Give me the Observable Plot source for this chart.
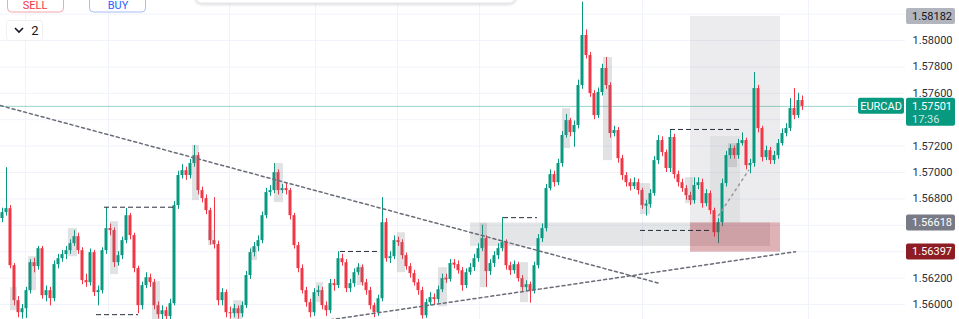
<!DOCTYPE html>
<html><head><meta charset="utf-8">
<script src="https://cdn.jsdelivr.net/npm/d3@7"></script>
<script src="https://cdn.jsdelivr.net/npm/@observablehq/plot@0.6"></script>
<style>
html,body{margin:0;padding:0;background:#fff;overflow:hidden;}
#wrap{position:relative;width:959px;height:319px;font-family:Roboto,"Noto Sans",sans-serif;}
#wrap svg{display:block;}
#ui{position:absolute;left:0;top:0;pointer-events:none;}
</style></head><body><div id="wrap"></div>
<script>
// ---- data (EURCAD candles) ----
const symbol = "EURCAD";
const countdown = "17:36";
const firstOpen = 1.56651;
const closes = [
1.56696,1.56726,1.56294,1.56029,1.55938,1.55968,1.56105,1.56317,1.56287,1.56423,
1.56067,1.56105,1.56044,1.56302,1.56347,1.56378,1.56408,1.56461,1.56514,1.56408,
1.56181,1.56165,1.56393,1.56090,1.56105,1.56408,1.56575,1.56560,1.56317,1.56370,
1.56484,1.56673,1.56522,1.56272,1.55991,1.56143,1.56203,1.56165,1.55991,1.55923,
1.55953,1.55908,1.56006,1.56749,1.56977,1.57014,1.56977,1.57068,1.57128,1.56863,
1.56802,1.56711,1.56484,1.56454,1.56029,1.56090,1.55938,1.55930,1.55968,1.55930,
1.55991,1.56219,1.56393,1.56438,1.56484,1.56673,1.56848,1.56863,1.56999,1.56863,
1.56878,1.56863,1.56673,1.56446,1.56272,1.56105,1.56014,1.55938,1.56090,1.56105,
1.55991,1.55953,1.56158,1.56143,1.56347,1.56317,1.56120,1.56158,1.56241,1.56279,
1.56165,1.56105,1.55991,1.55938,1.56044,1.56620,1.56347,1.56362,1.56484,1.56469,
1.56370,1.56287,1.56234,1.56165,1.56105,1.55915,1.56014,1.56052,1.56037,1.56112,
1.56196,1.56190,1.56310,1.56302,1.56256,1.56143,1.56241,1.56279,1.56347,1.56423,
1.56499,1.56249,1.56310,1.56370,1.56423,1.56469,1.56294,1.56256,1.56302,1.56196,
1.56128,1.56150,1.56105,1.56294,1.56499,1.56575,1.56878,1.56984,1.56923,1.57068,
1.57280,1.57393,1.57302,1.57356,1.57659,1.58038,1.57886,1.57598,1.57431,1.57606,
1.57788,1.57659,1.57295,1.57318,1.57105,1.56977,1.56923,1.56893,1.56923,1.56863,
1.56749,1.56757,1.56840,1.57090,1.57242,1.57151,1.57030,1.57265,1.56984,1.56923,
1.56878,1.56825,1.56787,1.56901,1.56923,1.56764,1.56840,1.56711,1.56544,1.56620,
1.56916,1.57128,1.57181,1.57128,1.57219,1.57242,1.57052,1.57068,1.57636,1.57333,
1.57113,1.57166,1.57090,1.57128,1.57219,1.57295,1.57333,1.57484,1.57431,1.57545,
1.57501];
const highs = [
1.56730,1.57037,1.56750,1.56310,1.56060,1.56000,1.56130,1.56340,1.56350,1.56440,
1.56440,1.56140,1.56130,1.56330,1.56380,1.56410,1.56440,1.56490,1.56560,1.56540,
1.56430,1.56230,1.56420,1.56410,1.56140,1.56430,1.56734,1.56610,1.56580,1.56400,
1.56510,1.56727,1.56690,1.56540,1.56290,1.56170,1.56240,1.56230,1.56190,1.56020,
1.55990,1.55980,1.56040,1.56780,1.57010,1.57060,1.57040,1.57100,1.57204,1.57150,
1.56890,1.56830,1.56730,1.56810,1.56480,1.56120,1.56110,1.55980,1.56000,1.55990,
1.56020,1.56250,1.56420,1.56470,1.56520,1.56700,1.56880,1.56900,1.57068,1.57020,
1.56910,1.56920,1.56880,1.56690,1.56470,1.56300,1.56130,1.56040,1.56120,1.56140,
1.56130,1.56020,1.56190,1.56190,1.56400,1.56380,1.56340,1.56190,1.56270,1.56310,
1.56300,1.56190,1.56130,1.56010,1.56070,1.56810,1.56650,1.56400,1.56520,1.56510,
1.56490,1.56390,1.56310,1.56260,1.56190,1.56130,1.56040,1.56090,1.56080,1.56140,
1.56230,1.56230,1.56340,1.56340,1.56330,1.56280,1.56270,1.56310,1.56380,1.56460,
1.56600,1.56520,1.56340,1.56400,1.56460,1.56658,1.56490,1.56320,1.56330,1.56320,
1.56220,1.56180,1.56170,1.56320,1.56530,1.56610,1.56910,1.57020,1.57010,1.57100,
1.57310,1.57440,1.57410,1.57390,1.57700,1.58290,1.58080,1.57910,1.57620,1.57640,
1.57820,1.57871,1.57680,1.57350,1.57340,1.57130,1.57000,1.56950,1.56960,1.56950,
1.56880,1.56790,1.56870,1.57120,1.57280,1.57270,1.57170,1.57318,1.57290,1.57010,
1.56950,1.56900,1.56850,1.56960,1.56960,1.56950,1.56870,1.56860,1.56730,1.56650,
1.56950,1.57160,1.57210,1.57200,1.57250,1.57300,1.57260,1.57100,1.57757,1.57660,
1.57350,1.57200,1.57190,1.57160,1.57250,1.57330,1.57370,1.57560,1.57636,1.57600,
1.57580];
const lows = [
1.56620,1.56670,1.56270,1.55990,1.55900,1.55890,1.55895,1.56080,1.56240,1.56260,
1.56040,1.56020,1.55990,1.56020,1.56270,1.56320,1.56340,1.56380,1.56440,1.56380,
1.56150,1.56130,1.56140,1.56060,1.55990,1.56080,1.56380,1.56520,1.56280,1.56290,
1.56340,1.56460,1.56490,1.56240,1.55930,1.55960,1.56120,1.56130,1.55960,1.55890,
1.55880,1.55880,1.55885,1.55990,1.56720,1.56950,1.56940,1.56950,1.57040,1.56830,
1.56770,1.56680,1.56450,1.56420,1.55990,1.55990,1.55900,1.55890,1.55900,1.55890,
1.55900,1.55970,1.56190,1.56360,1.56400,1.56460,1.56650,1.56820,1.56840,1.56830,
1.56840,1.56830,1.56640,1.56420,1.56240,1.56080,1.55980,1.55900,1.55910,1.56060,
1.55960,1.55910,1.55930,1.56100,1.56120,1.56290,1.56090,1.56090,1.56130,1.56220,
1.56140,1.56070,1.55960,1.55900,1.55910,1.56020,1.56320,1.56310,1.56340,1.56440,
1.56340,1.56260,1.56200,1.56140,1.56070,1.55890,1.55895,1.55990,1.56000,1.56010,
1.56090,1.56160,1.56170,1.56270,1.56230,1.56100,1.56120,1.56220,1.56250,1.56320,
1.56400,1.56130,1.56220,1.56280,1.56340,1.56400,1.56260,1.56220,1.56230,1.56170,
1.56100,1.56100,1.56010,1.56080,1.56270,1.56470,1.56550,1.56860,1.56890,1.56900,
1.57040,1.57260,1.57270,1.57190,1.57330,1.57630,1.57860,1.57570,1.57400,1.57410,
1.57580,1.57630,1.57260,1.57270,1.57070,1.56940,1.56890,1.56860,1.56870,1.56830,
1.56720,1.56670,1.56730,1.56820,1.57060,1.57120,1.57000,1.57000,1.56950,1.56890,
1.56850,1.56790,1.56750,1.56760,1.56870,1.56730,1.56740,1.56680,1.56510,1.56461,
1.56590,1.56890,1.57100,1.57100,1.57100,1.57200,1.57020,1.56990,1.57040,1.57300,
1.57080,1.57090,1.57060,1.57060,1.57100,1.57200,1.57270,1.57310,1.57400,1.57410,
1.57470];

// price axis
const tickLabels = [1.58000, 1.57800, 1.57600, 1.57200, 1.57000, 1.56800, 1.56200, 1.56000];
const gridPrices = [1.560, 1.562, 1.564, 1.566, 1.568, 1.570, 1.572, 1.574, 1.576, 1.578, 1.580, 1.582];
const gridBars = [5.75, 26.5, 56.75, 78.25, 98.75, 119.25, 160, 201.5];
const lastPrice = 1.57501;
const highMarker = 1.58182;
const zoneTopMarker = 1.56618;
const stopMarker = 1.56397;

// drawings (bar index, price)
const orderBlocks = [
  [2,3.75,1.56128,1.55953],[6.5,8.5,1.56362,1.56105],[16.5,18.75,1.56575,1.56362],
  [27,29,1.56628,1.56226],[37.5,39.5,1.56173,1.55885],[47.5,49.25,1.57204,1.56787],
  [51.5,53.25,1.56560,1.56446],[57.75,60,1.56029,1.55885],[62,63.75,1.56431,1.56332],
  [68,70.25,1.57067,1.56772],[78.5,80.25,1.56165,1.56014],[88.75,90.5,1.56294,1.56143],
  [98.75,100.75,1.56544,1.56241],[109,111.25,1.56279,1.55983],[119.5,121.25,1.56613,1.56128],
  [129.5,131.5,1.56317,1.56014],[140,142,1.57484,1.57181],[150.25,152.5,1.57871,1.57090],
  [159.5,162,1.56916,1.56681],[170.75,172.75,1.56961,1.56764],[181.5,183.75,1.57219,1.57037]
];
const demandBand = [117, 192, 1.56618, 1.56440];
const riskZone = [172, 194.5, 1.56618, 1.56397];
const targetZone = [172, 194.5, 1.58182, 1.56618];
const entryZone = [177, 184.5, 1.57272, 1.56618];
const levelLines = [
  [25.5,42.75,1.56737],[23.5,34,1.55923],[84.5,93.75,1.56402],
  [125.25,133.75,1.56658],[167,184.5,1.57326],[159.5,177,1.56561]
];
const trendDown = [[-0.5,1.57507],[164.5,1.56158]];
const trendUp = [[82,1.55885],[198.25,1.56400]];
const projection = [[179,1.56673],[186.5,1.57015]];

// ---- build ----
const GREEN = "#089981", RED = "#f23645";
const candles = closes.map((c, i) => {
  const o = i === 0 ? firstOpen : closes[i - 1];
  return {i, open: o, close: c, high: highs[i], low: lows[i], color: c >= o ? GREEN : RED};
});
const toRect = z => ({i1: z[0], i2: z[1], p1: z[2], p2: z[3]});

const chart = Plot.plot({
  width: 959, height: 319,
  marginLeft: 0, marginRight: 54, marginTop: 0, marginBottom: 0,
  x: {domain: [-0.5, 225.75], axis: null},
  y: {domain: [1.558864, 1.583030], axis: null},
  color: {type: "identity"},
  style: {fontFamily: "Roboto, sans-serif", fontSize: "11px", color: "#131722", background: "#fff"},
  marks: [
    Plot.ruleY(gridPrices, {stroke: "#f0f3fa"}),
    Plot.ruleX(gridBars, {stroke: "#f0f3fa"}),
    Plot.rect([toRect(targetZone)], {x1: "i1", x2: "i2", y1: "p1", y2: "p2", fill: "#787b86", fillOpacity: 0.14}),
    Plot.rect([toRect(entryZone)], {x1: "i1", x2: "i2", y1: "p1", y2: "p2", fill: "#787b86", fillOpacity: 0.1}),
    Plot.rect([toRect(demandBand)], {x1: "i1", x2: "i2", y1: "p1", y2: "p2", fill: "#787b86", fillOpacity: 0.2}),
    Plot.ruleY([lastPrice], {x1: -0.5, x2: 213.75, stroke: GREEN, strokeOpacity: 0.4}),
    Plot.ruleX(candles, {x: "i", y1: "low", y2: "high", stroke: "color"}),
    Plot.rect(candles, {
      x1: d => d.i - 0.375, x2: d => d.i + 0.375,
      y1: d => Math.min(d.open, d.close) - (Math.abs(d.open - d.close) < 0.00008 ? 0.00004 : 0),
      y2: d => Math.max(d.open, d.close) + (Math.abs(d.open - d.close) < 0.00008 ? 0.00004 : 0),
      fill: "color"
    }),
    Plot.rect(orderBlocks.map(toRect), {x1: "i1", x2: "i2", y1: "p1", y2: "p2", fill: "#787b86", fillOpacity: 0.22}),
    Plot.rect([toRect(riskZone)], {x1: "i1", x2: "i2", y1: "p1", y2: "p2", fill: "#a52a35", fillOpacity: 0.36}),
    Plot.ruleY(levelLines, {x1: d => d[0], x2: d => d[1], y: d => d[2], stroke: "#2a2e39", strokeDasharray: "5,3"}),
    Plot.line(trendDown, {x: d => d[0], y: d => d[1], stroke: "#6a6d78", strokeDasharray: "3,3"}),
    Plot.line(trendUp, {x: d => d[0], y: d => d[1], stroke: "#6a6d78", strokeDasharray: "3,3"}),
    Plot.line(projection, {x: d => d[0], y: d => d[1], stroke: "#9598a1", strokeDasharray: "2,4"}),
    Plot.text(tickLabels, {y: d => d, frameAnchor: "right", dx: 7, textAnchor: "start", text: d => d.toFixed(5), fill: "#2a2e39", fontSize: 11})
  ]
});
document.getElementById("wrap").appendChild(chart);

// price-scale labels placed with the chart's own y scale
const ys = chart.scale("y");
const svg = d3.select(chart);
const g = svg.append("g").attr("font-family", "Roboto, sans-serif").attr("font-size", 11).attr("text-anchor", "start");
function tag(price, bg, fg) {
  const y = ys.apply(price);
  g.append("rect").attr("x", 906).attr("y", y - 8).attr("width", 49).attr("height", 16).attr("rx", 2).attr("fill", bg);
  g.append("text").attr("x", 912).attr("y", y).attr("dy", "0.35em").attr("fill", fg).text(price.toFixed(5));
}
tag(highMarker, "#b2b5be", "#131722");
tag(zoneTopMarker, "#787b86", "#ffffff");
tag(stopMarker, "#8e1c24", "#ffffff");
{
  const y = ys.apply(lastPrice);
  g.append("rect").attr("x", 858).attr("y", y - 8).attr("width", 46).attr("height", 16).attr("rx", 2).attr("fill", GREEN);
  g.append("text").attr("x", 881).attr("y", y).attr("dy", "0.35em").attr("text-anchor", "middle").attr("fill", "#fff").text(symbol);
  g.append("rect").attr("x", 906).attr("y", y - 8).attr("width", 49).attr("height", 28).attr("rx", 2).attr("fill", GREEN);
  g.append("text").attr("x", 912).attr("y", y).attr("dy", "0.35em").attr("fill", "#fff").text(lastPrice.toFixed(5));
  g.append("text").attr("x", 912).attr("y", y + 13).attr("dy", "0.35em").attr("fill", "#fff").attr("fill-opacity", 0.8).text(countdown);
}

// trading-panel chrome at the top
const ui = d3.select("#wrap").append("svg").attr("id", "ui").attr("width", 959).attr("height", 50)
  .attr("font-family", "Roboto, sans-serif");
const defs = ui.append("defs");
const f = defs.append("filter").attr("id", "sh").attr("x", "-10%").attr("y", "-50%").attr("width", "120%").attr("height", "250%");
f.append("feDropShadow").attr("dx", 0).attr("dy", 1).attr("stdDeviation", 1.5).attr("flood-color", "#000").attr("flood-opacity", 0.18);
ui.append("rect").attr("x", 195.5).attr("y", -14).attr("width", 320).attr("height", 17).attr("rx", 6).attr("fill", "#fff").attr("stroke", "#e0e3eb").attr("filter", "url(#sh)");
ui.append("rect").attr("x", 7.5).attr("y", -10).attr("width", 56).attr("height", 22).attr("rx", 4).attr("fill", "#fff").attr("stroke", "#f5a6ae");
ui.append("text").attr("x", 35).attr("y", 9).attr("text-anchor", "middle").attr("font-size", 11).attr("fill", "#f23645").text("SELL");
ui.append("rect").attr("x", 89.5).attr("y", -10).attr("width", 56).attr("height", 22).attr("rx", 4).attr("fill", "#fff").attr("stroke", "#a9bcf5");
ui.append("text").attr("x", 118).attr("y", 9).attr("text-anchor", "middle").attr("font-size", 11).attr("fill", "#2962ff").text("BUY");
ui.append("rect").attr("x", 6.5).attr("y", 20.5).attr("width", 36).attr("height", 20).attr("rx", 3).attr("fill", "#fff").attr("stroke", "#eef0f4");
ui.append("path").attr("d", "M15 28 L19 32 L23 28").attr("fill", "none").attr("stroke", "#131722").attr("stroke-width", 1.6);
ui.append("text").attr("x", 35).attr("y", 35).attr("text-anchor", "middle").attr("font-size", 13).attr("fill", "#131722").text("2");
</script></body></html>
